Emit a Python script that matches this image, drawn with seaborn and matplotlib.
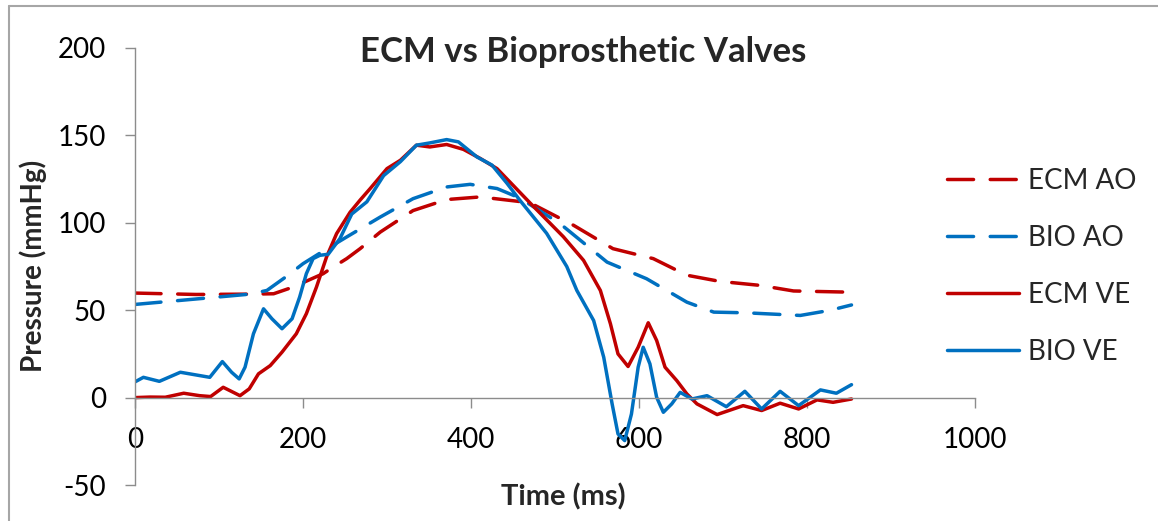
import matplotlib
matplotlib.use("Agg")
import matplotlib.pyplot as plt
import seaborn as sns
import pandas as pd
from matplotlib.lines import Line2D

# ---------------- data ----------------
time_ecm_ao = [0, 73, 137, 165, 188, 224, 236, 252, 268, 292, 331, 371, 411, 470, 522, 569, 617, 657, 696, 744, 784, 853]
ecm_ao = [59.8, 59, 59.2, 59.4, 63.2, 70.9, 74.7, 79.5, 85.2, 94.7, 107, 113.3, 114.8, 111.5, 98.6, 85.2, 79.5, 70,
          66.5, 64.2, 61, 60.3]

time_bio_ao = [0, 77, 137, 157, 182, 200, 224, 252, 292, 331, 371, 399, 431, 458, 506, 562, 609, 657, 689, 728, 792,
               827, 853]
bio_ao = [53.3, 56.6, 59.2, 61.3, 69.9, 76.6, 83.8, 91.9, 103.3, 113.8, 120.5, 122, 119.6, 114.2, 99.5, 77.5, 68,
          54.6, 48.9, 48.5, 47, 49.9, 53]

time_ecm_ve = [0, 18, 36, 58, 77, 90, 105, 115, 125, 136, 147, 161, 175, 192, 204, 216, 228, 240, 256, 268, 280,
               300, 316, 335, 351, 371, 391, 411, 431, 470, 510, 534, 554, 566, 575, 587, 599, 611, 621, 631, 645,
               657, 669, 693, 724, 746, 768, 790, 812, 831, 853]
ecm_ve = [0, 0.3, 0.2, 2.5, 1.1, 0.6, 5.9, 3.5, 1.1, 5, 13.6, 18.3, 26, 36.5, 48, 63.2, 80.4, 93.8, 106, 113, 119.6,
          131, 135.8, 144.4, 143.4, 144.8, 142, 136.8, 131, 111.5, 92, 78.5, 61.3, 42.2, 25, 17.8, 28.8, 42.8, 32.7,
          17.4, 9.7, 2.1, -3.6, -9.7, -4.6, -7.4, -3.2, -6.5, -1.3, -2.7, -0.8]

time_bio_ve = [0, 10, 29, 54, 77, 89, 104, 115, 124, 131, 141, 153, 163, 175, 187, 196, 204, 212, 220, 230, 244,
               258, 276, 296, 316, 335, 351, 371, 385, 407, 425, 443, 458, 490, 514, 526, 546, 558, 568, 575, 583,
               591, 599, 605, 613, 621, 629, 639, 649, 663, 681, 704, 726, 746, 768, 790, 816, 835, 853]
bio_ve = [9, 11.6, 9.3, 14.5, 12.6, 11.6, 20.6, 14.5, 10.7, 17.4, 36.5, 50.8, 45.1, 39.4, 45.1, 57.5, 70.9, 79.5,
          81.4, 82, 91, 105, 112, 127, 135, 144.4, 145.7, 147.6, 146.3, 137.7, 133, 122.5, 113, 94, 75, 61.3, 44.1,
          23.1, -3.6, -20.8, -24.6, -9.4, 17.4, 28.8, 19.3, 0.2, -8.4, -3.6, 3, -0.8, 1.1, -5.2, 3.6, -6.5, 3.6,
          -4.6, 4.4, 2.5, 7.4]

series_names = ["ECM AO", "BIO AO", "ECM VE", "BIO VE"]
x_ticks = [0, 200, 400, 600, 800, 1000]
y_ticks = [-50, 0, 50, 100, 150, 200]

RED = "#C00000"
BLUE = "#0070C0"
GRAY = "#8C8C8C"

sns.set_theme(style="white")
plt.rcParams["font.family"] = ["Lato", "DejaVu Sans"]
plt.rcParams["axes.unicode_minus"] = False

fig = plt.figure(figsize=(11.58, 5.21), dpi=100)
ax = fig.add_axes([135 / 1158, 1 - 485 / 521, 840 / 1158, 437 / 521])

lw = 2.5
specs = [
    (time_ecm_ao, ecm_ao, RED, True),
    (time_bio_ao, bio_ao, BLUE, True),
    (time_ecm_ve, ecm_ve, RED, False),
    (time_bio_ve, bio_ve, BLUE, False),
]
for name, (t, v, c, dashed) in zip(series_names, specs):
    df = pd.DataFrame({"t": t, "v": v})
    sns.lineplot(data=df, x="t", y="v", ax=ax, color=c, linewidth=lw, label=name,
                 sort=False, estimator=None)

for line, (t, v, c, dashed) in zip(ax.get_lines(), specs):
    line.set_solid_joinstyle("round")
    line.set_solid_capstyle("round")
    if dashed:
        line.set_dashes((7.5, 4.8))
        line.set_dash_capstyle("round")

ax.set_xlim(0, 1000)
ax.set_ylim(-50, 200)
ax.set_xticks(x_ticks)
ax.set_yticks(y_ticks)
ax.set_xlabel("")
ax.set_ylabel("")

for s in ["top", "right"]:
    ax.spines[s].set_visible(False)
ax.spines["bottom"].set_position(("data", 0))
for s in ["left", "bottom"]:
    ax.spines[s].set_color(GRAY)
    ax.spines[s].set_linewidth(1.0)

ax.tick_params(axis="both", which="both", colors=GRAY, labelcolor="black", labelsize=20,
               length=7, width=1.0, direction="out")
ax.tick_params(axis="x", pad=14, bottom=True)
ax.tick_params(axis="y", pad=14, left=True)

fig.text(583 / 1158, 1 - 52 / 521, "ECM vs Bioprosthetic Valves", fontsize=25, fontweight="bold",
         ha="center", va="center")
fig.text(33 / 1158, 1 - 266 / 521, "Pressure (mmHg)", rotation=90, fontsize=20, fontweight="bold",
         ha="center", va="center")
fig.text(563 / 1158, 1 - 497 / 521, "Time (ms)", fontsize=21, fontweight="bold", ha="center", va="center")

leg = ax.legend(loc="center left", bbox_to_anchor=((947 - 135) / 840, 0.5),
                frameon=False, fontsize=20, handlelength=2.6, handletextpad=0.3, labelspacing=1.12,
                borderaxespad=0, borderpad=0)

# chart-area border (cropped on the right and bottom in the reference)
fig.add_artist(Line2D([8.5 / 1158, 8.5 / 1158], [0, 1 - 5.5 / 521], transform=fig.transFigure, color="#A6A6A6", lw=1.5))
fig.add_artist(Line2D([8.5 / 1158, 1], [1 - 5.5 / 521, 1 - 5.5 / 521], transform=fig.transFigure, color="#A6A6A6", lw=1.5))

fig.savefig("out.png", dpi=100, facecolor="white")
